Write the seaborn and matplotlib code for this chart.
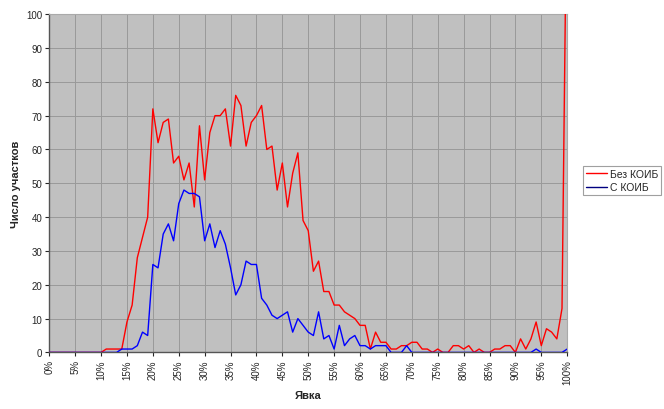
import pandas as pd
import matplotlib
matplotlib.use("Agg")
import matplotlib.pyplot as plt
import seaborn as sns

# явка, %
turnout = list(range(0, 101))

# Без КОИБ
no_koib = [0, 0, 0, 0, 0, 0, 0, 0, 0, 0,
           0, 1, 1, 1, 1, 9, 14, 28, 34, 40,
           72, 62, 68, 69, 56, 58, 51, 56, 43, 67,
           51, 65, 70, 70, 72, 61, 76, 73, 61, 68,
           70, 73, 60, 61, 48, 56, 43, 53, 59, 39,
           36, 24, 27, 18, 18, 14, 14, 12, 11, 10,
           8, 8, 1, 6, 3, 3, 1, 1, 2, 2,
           3, 3, 1, 1, 0, 1, 0, 0, 2, 2,
           1, 2, 0, 1, 0, 0, 1, 1, 2, 2,
           0, 4, 1, 4, 9, 2, 7, 6, 4, 13,
           150]

# С КОИБ
koib = [0, 0, 0, 0, 0, 0, 0, 0, 0, 0,
        0, 0, 0, 0, 1, 1, 1, 2, 6, 5,
        26, 25, 35, 38, 33, 44, 48, 47, 47, 46,
        33, 38, 31, 36, 32, 25, 17, 20, 27, 26,
        26, 16, 14, 11, 10, 11, 12, 6, 10, 8,
        6, 5, 12, 4, 5, 1, 8, 2, 4, 5,
        2, 2, 1, 2, 2, 2, 0, 0, 0, 2,
        0, 0, 0, 0, 0, 0, 0, 0, 0, 0,
        0, 0, 0, 0, 0, 0, 0, 0, 0, 0,
        0, 0, 0, 0, 1, 0, 0, 0, 0, 0,
        1]

series_names = ["Без КОИБ", "С КОИБ"]
series_colors = ["#FF0000", "#0000FF"]

df = pd.concat([
    pd.DataFrame({"Явка": turnout, "Число участков": no_koib, "Серия": series_names[0]}),
    pd.DataFrame({"Явка": turnout, "Число участков": koib, "Серия": series_names[1]}),
])

sns.set_style("ticks")
plt.rcParams['font.family'] = ['Liberation Sans', 'DejaVu Sans']

fig = plt.figure(figsize=(6.64, 4.10), dpi=100)
ax = fig.add_axes([0.0742, 0.138, 0.780, 0.825])
ax.set_facecolor("#C0C0C0")

sns.lineplot(data=df, x="Явка", y="Число участков", hue="Серия",
             palette=dict(zip(series_names, series_colors)),
             linewidth=1.0, ax=ax, legend=False, zorder=3)

ax.set_xlim(0, 100)
ax.set_ylim(0, 100)
ax.set_xticks(range(0, 101, 5))
ax.set_xticklabels([f"{v}%" for v in range(0, 101, 5)], rotation=90, fontsize=7)
ax.set_yticks(range(0, 101, 10))
ax.tick_params(axis="y", labelsize=7, length=3, width=0.8, pad=2)
ax.tick_params(axis="x", length=3, width=0.8, pad=2)
ax.grid(True, color="#999999", linewidth=0.7, zorder=0)
ax.set_axisbelow(True)

for side in ["left", "bottom"]:
    ax.spines[side].set_color("#555555")
    ax.spines[side].set_linewidth(1.0)
for side in ["top", "right"]:
    ax.spines[side].set_color("#AAAAAA")
    ax.spines[side].set_linewidth(0.8)

ax.set_xlabel("Явка", fontsize=8, fontweight="bold", labelpad=4)
ax.set_ylabel("Число участков", fontsize=8, fontweight="bold", labelpad=4)

handles = [plt.Line2D([], [], color=c, linewidth=1.0) for c in ["#FF0000", "#000080"]]
leg = fig.legend(handles, series_names, loc="upper left",
                 bbox_to_anchor=(583 / 664, 1 - 167 / 410),
                 fontsize=7.5, frameon=True, fancybox=False,
                 handlelength=2.0, handletextpad=0.3, borderpad=0.3,
                 labelspacing=0.3, borderaxespad=0)
leg.get_frame().set_edgecolor("#888888")
leg.get_frame().set_linewidth(0.8)

fig.savefig("out.png", dpi=100, facecolor="white")
